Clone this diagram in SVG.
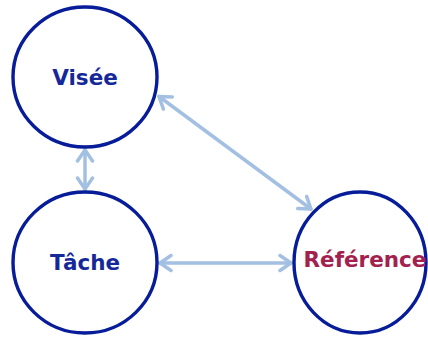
<svg xmlns="http://www.w3.org/2000/svg" width="428" height="337" viewBox="0 0 428 337">
  <style>
    .node { fill: #ffffff; stroke: #071C98; stroke-width: 3.4; }
    .lbl { font-family: "DejaVu Sans", Verdana, sans-serif; font-weight: bold; font-size: 21.5px; text-anchor: middle; }
    .blue { fill: #15289A; }
    .red { fill: #A3214F; }
    .conn { stroke: #A3C0E2; stroke-width: 3.5; fill: none; stroke-linecap: round; }
  </style>
  <defs>
    <marker id="head" markerUnits="userSpaceOnUse" viewBox="-14 -10 16 20" refX="0" refY="0" markerWidth="16" markerHeight="20" orient="auto-start-reverse">
      <path d="M-11,-7.5 L0,0 L-11,7.5" fill="none" stroke="#A3C0E2" stroke-width="3.5" stroke-linecap="round" stroke-linejoin="round"/>
    </marker>
  </defs>
  <g id="connectors">
    <line class="conn" x1="85" y1="150" x2="85" y2="189" marker-start="url(#head)" marker-end="url(#head)"/>
    <line class="conn" x1="159" y1="96.5" x2="311" y2="209" marker-start="url(#head)" marker-end="url(#head)"/>
    <line class="conn" x1="160" y1="263" x2="291" y2="263" marker-start="url(#head)" marker-end="url(#head)"/>
  </g>
  <g id="visee">
    <ellipse class="node" cx="85" cy="77" rx="72" ry="70"/>
    <text class="lbl blue" x="85" y="85">Visée</text>
  </g>
  <g id="tache">
    <ellipse class="node" cx="85" cy="262.5" rx="72" ry="70.5"/>
    <text class="lbl blue" x="85" y="270">Tâche</text>
  </g>
  <g id="reference">
    <ellipse class="node" cx="360" cy="262.5" rx="66" ry="70.5"/>
    <text class="lbl red" x="365" y="267">Référence</text>
  </g>
</svg>
